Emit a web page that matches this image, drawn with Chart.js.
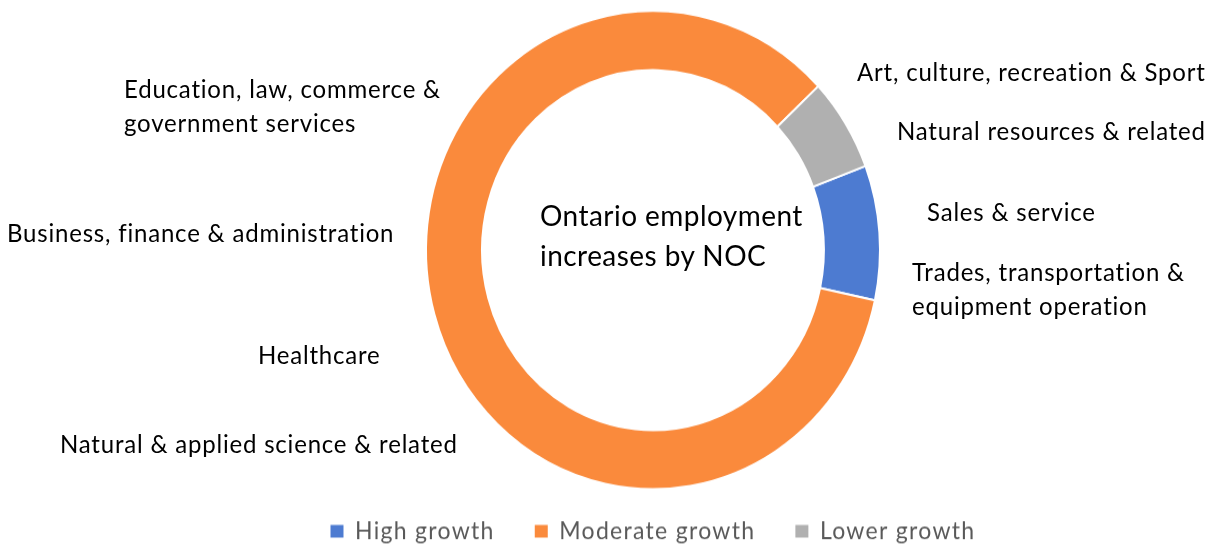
<!DOCTYPE html>
<html>
<head>
<meta charset="utf-8">
<title>Ontario employment increases by NOC</title>
<script src="https://cdn.jsdelivr.net/npm/chart.js@4.4.1/dist/chart.umd.min.js"></script>
<style>
  html, body { margin: 0; padding: 0; background: #fff; }
  body { width: 1214px; height: 546px; overflow: hidden; }
  /* the whole slide is a little taller than wide, so stretch it vertically */
  #page { position: relative; width: 1214px; height: 526px; transform: scaleY(1.053); transform-origin: 0 0; font-family: Lato, "Open Sans", sans-serif; }
  #chartBox { position: absolute; left: 0; top: 0; width: 1214px; height: 526px; }
  .lbl { position: absolute; white-space: pre; color: #000; font-size: 24px; letter-spacing: 0.8px; line-height: 32px; }
  .title { font-size: 28px; letter-spacing: 0.45px; line-height: 38px; }
</style>
</head>
<body>
<div id="page">
  <div id="chartBox"><canvas id="chart"></canvas></div>
  <div id="labels"></div>
</div>
<script>
  // growth groups and their share of the employment increase (%)
  const groups = ['High growth', 'Moderate growth', 'Lower growth'];
  const shares = [9.1, 84.6, 6.3];
  const groupColors = ['#4d7bd1', '#fa8a3c', '#b0b0b0'];

  // occupation groups written around the ring
  const occupations = [
    'Art, culture, recreation & Sport',
    'Natural resources & related',
    'Sales & service',
    'Trades, transportation &\nequipment operation',
    'Natural & applied science & related',
    'Healthcare',
    'Business, finance & administration',
    'Education, law, commerce &\ngovernment services'
  ];
  const centreTitle = 'Ontario employment\nincreases by NOC';

  // where each occupation label sits: left edge, middle of first line
  const labelSpots = [
    [857, 68], [897, 124], [927, 201], [912, 258],
    [60, 421], [258, 337], [7, 221], [124, 84]
  ];

  const labelLayer = document.getElementById('labels');
  function addLabel(text, x, yMid, cls) {
    const div = document.createElement('div');
    div.className = cls;
    div.textContent = text;
    labelLayer.appendChild(div);
    const lh = parseFloat(getComputedStyle(div).lineHeight);
    div.style.left = x + 'px';
    div.style.top = (yMid - lh / 2) + 'px';
  }
  occupations.forEach((txt, i) => addLabel(txt, labelSpots[i][0], labelSpots[i][1], 'lbl'));
  addLabel(centreTitle, 540, 204, 'lbl title');

  // legend text is a touch wider spaced; canvas state is reset on resize so set it each pass
  const legendSpacing = {
    id: 'legendSpacing',
    beforeLayout(chart) { chart.ctx.letterSpacing = '1.3px'; },
    beforeDraw(chart) { chart.ctx.letterSpacing = '1.3px'; }
  };

  const ctx = document.getElementById('chart').getContext('2d');
  new Chart(ctx, {
    type: 'doughnut',
    data: {
      labels: groups,
      datasets: [{
        data: shares,
        backgroundColor: groupColors,
        borderColor: '#ffffff',
        borderWidth: 2,
        hoverOffset: 0
      }]
    },
    options: {
      responsive: true,
      maintainAspectRatio: false,
      animation: false,
      events: [],
      rotation: 69.4,
      cutout: '75.3%',
      radius: 227,
      layout: { padding: { left: 92, top: 22, right: 0, bottom: 0 } },
      plugins: {
        tooltip: { enabled: false },
        legend: {
          position: 'bottom',
          labels: {
            font: { family: 'Lato', size: 23 },
            color: '#595959',
            boxWidth: 13,
            boxHeight: 12,
            padding: 40,
            generateLabels: (chart) => {
              const items = Chart.overrides.doughnut.plugins.legend.labels.generateLabels(chart);
              items.forEach(it => { it.lineWidth = 0; });
              return items;
            }
          }
        }
      }
    },
    plugins: [legendSpacing]
  });
</script>
</body>
</html>
